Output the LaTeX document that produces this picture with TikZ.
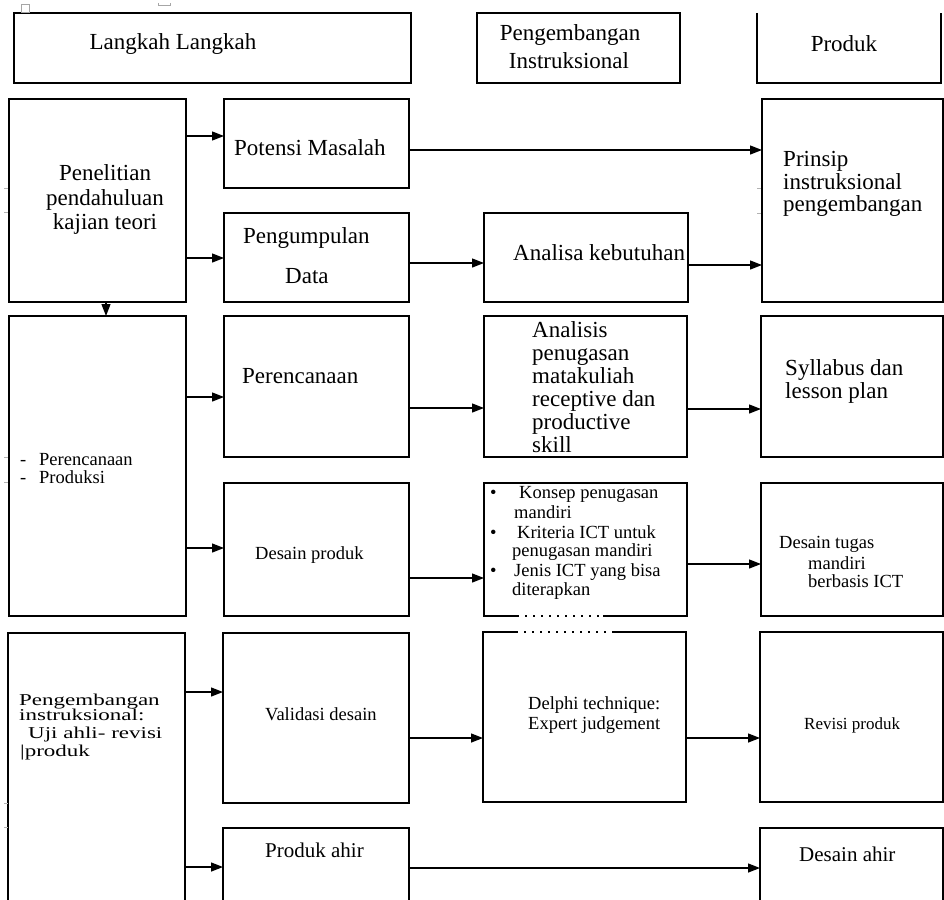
\documentclass[tikz,border=0pt]{standalone}
\usepackage{fontspec}
\setmainfont{Liberation Serif}
\usetikzlibrary{arrows.meta}
\newcommand\fsA{\fontsize{23}{25}\selectfont}
\newcommand\fsB{\fontsize{18.5}{20}\selectfont}
\newcommand\fsC{\fontsize{21}{23}\selectfont}
\newcommand\fsD{\fontsize{17}{19}\selectfont}
\newcommand\squash[1]{\scalebox{1}[0.72]{#1}}
\begin{document}
\begin{tikzpicture}[x=1pt,y=-1pt,
  box/.style={draw, line width=1.2pt, inner sep=0pt, outer sep=0pt, anchor=north west},
  openbox/.style={draw=none, inner sep=0pt, outer sep=0pt, anchor=north west},
  arr/.style={line width=1.3pt, -{Triangle[length=12pt,width=9pt]}},
  tl/.style={inner sep=0pt, anchor=base west},
  tc/.style={inner sep=0pt, anchor=base},
  tick/.style={gray!60, line width=0.6pt}]
\clip (0,0) rectangle (944,899);
\fill[white] (0,0) rectangle (944,899);

% header
\node[box, minimum width=397pt, minimum height=70pt] (hL) at (14,13) {};
\node[box, minimum width=203pt, minimum height=70pt] (hP) at (477,13) {};
\node[openbox, minimum width=184pt, minimum height=70pt] (hR) at (757,13) {};
\draw[line width=1.2pt] (hR.north west) -- (hR.south west) -- (hR.south east) -- (hR.north east);

% row 1
\node[box, minimum width=177pt, minimum height=203pt] (A1) at (9,99) {};
\node[box, minimum width=185pt, minimum height=89pt] (P1) at (224,99) {};
\node[box, minimum width=185pt, minimum height=89pt] (P2) at (224,213) {};
\node[box, minimum width=204pt, minimum height=89pt] (M2) at (484,213) {};
\node[box, minimum width=181pt, minimum height=203pt] (R1) at (762,99) {};

% row 2
\node[box, minimum width=177pt, minimum height=300pt] (A2) at (9,316) {};
\node[box, minimum width=185pt, minimum height=141pt] (P3) at (224,316) {};
\node[box, minimum width=185pt, minimum height=133pt] (P4) at (224,483) {};
\node[box, minimum width=203pt, minimum height=141pt] (M3) at (484,316) {};
\node[box, minimum width=182pt, minimum height=141pt] (R3) at (761,316) {};
\node[box, minimum width=203pt, minimum height=133pt] (M4) at (484,483) {};
\node[box, minimum width=182pt, minimum height=133pt] (R4) at (761,483) {};

% row 3
\node[box, minimum width=177pt, minimum height=290pt] (A3) at (8,633) {};
\node[box, minimum width=186pt, minimum height=170pt] (P5) at (223,633) {};
\node[box, minimum width=186pt, minimum height=100pt] (P6) at (223,828) {};
\node[box, minimum width=203pt, minimum height=170pt] (M5) at (483,632) {};
\node[box, minimum width=183pt, minimum height=170pt] (R5) at (760,632) {};
\node[box, minimum width=183pt, minimum height=100pt] (R6) at (760,828) {};

% arrows
\draw[arr] (A1.east |- 0,136) -- (P1.west |- 0,136);
\draw[arr] (A1.east |- 0,258) -- (P2.west |- 0,258);
\draw[arr] (P1.east |- 0,150) -- (R1.west |- 0,150);
\draw[arr] (P2.east |- 0,263) -- (M2.west |- 0,263);
\draw[arr] (M2.east |- 0,265) -- (R1.west |- 0,265);
\draw[arr] (A1.south -| 106,0) -- (A2.north -| 106,0);
\draw[arr] (A2.east |- 0,397) -- (P3.west |- 0,397);
\draw[arr] (A2.east |- 0,548) -- (P4.west |- 0,548);
\draw[arr] (P3.east |- 0,408) -- (M3.west |- 0,408);
\draw[arr] (M3.east |- 0,409) -- (R3.west |- 0,409);
\draw[arr] (P4.east |- 0,578) -- (M4.west |- 0,578);
\draw[arr] (M4.east |- 0,564) -- (R4.west |- 0,564);
\draw[arr] (A3.east |- 0,692) -- (P5.west |- 0,692);
\draw[arr] (A3.east |- 0,867) -- (P6.west |- 0,867);
\draw[arr] (P5.east |- 0,738) -- (M5.west |- 0,738);
\draw[arr] (M5.east |- 0,738) -- (R5.west |- 0,738);
\draw[arr] (P6.east |- 0,868) -- (R6.west |- 0,868);

% header texts
\node[tc, font=\fsA] (t1) at (173,50) {Langkah Langkah};
\node[tc, font=\fsA] (t2) at (570,41) {Pengembangan};
\node[tc, font=\fsA] (t3) at (569,68) {Instruksional};
\node[tc, font=\fsA] (t4) at (844,52) {Produk};

% row 1 texts
\node[tc, font=\fsA] (t5) at (105,180) {Penelitian};
\node[tc, font=\fsA] (t6) at (105,205) {pendahuluan};
\node[tc, font=\fsA] (t7) at (105,229) {kajian teori};
\node[tl, font=\fsA] (t8) at (234,155) {Potensi Masalah};
\node[tl, font=\fsA] (t9) at (243,243) {Pengumpulan};
\node[tl, font=\fsA] (t10) at (285,283) {Data};
\node[tl, font=\fsA] (t11) at (513,260) {Analisa kebutuhan};
\node[tl, font=\fsA] (t12) at (783,166) {Prinsip};
\node[tl, font=\fsA] (t13) at (783,189) {instruksional};
\node[tl, font=\fsA] (t14) at (783,211) {pengembangan};

% row 2 texts
\node[tl, font=\fsB] (t15) at (20,465) {-};
\node[tl, font=\fsB] (t16) at (39,465) {Perencanaan};
\node[tl, font=\fsB] (t17) at (20,483) {-};
\node[tl, font=\fsB] (t18) at (39,483) {Produksi};
\node[tl, font=\fsA] (t19) at (242,383) {Perencanaan};
\node[tl, font=\fsB] (t20) at (255,559) {Desain produk};
\node[tl, font=\fsA] (t21) at (532,337) {Analisis};
\node[tl, font=\fsA] (t22) at (532,360) {penugasan};
\node[tl, font=\fsA] (t23) at (532,383) {matakuliah};
\node[tl, font=\fsA] (t24) at (532,406) {receptive dan};
\node[tl, font=\fsA] (t25) at (532,429) {productive};
\node[tl, font=\fsA] (t26) at (532,452) {skill};
\node[tl, font=\fsA] (t27) at (785,375) {Syllabus dan};
\node[tl, font=\fsA] (t28) at (785,398) {lesson plan};
\node[tl, font=\fsB] (t29) at (490,498) {\textbullet};
\node[tl, font=\fsB] (t30) at (519,498) {Konsep penugasan};
\node[tl, font=\fsB] (t31) at (514,518) {mandiri};
\node[tl, font=\fsB] (t32) at (490,538) {\textbullet};
\node[tl, font=\fsB] (t33) at (517,538) {Kriteria ICT untuk};
\node[tl, font=\fsB] (t34) at (512,556) {penugasan mandiri};
\node[tl, font=\fsB] (t35) at (490,576) {\textbullet};
\node[tl, font=\fsB] (t36) at (514,576) {Jenis ICT yang bisa};
\node[tl, font=\fsB] (t37) at (512,595) {diterapkan};
\node[tl, font=\fsB] (t38) at (779,548) {Desain tugas};
\node[tl, font=\fsB] (t39) at (808,569) {mandiri};
\node[tl, font=\fsB] (t40) at (808,587) {berbasis ICT};

% row 3 texts
\node[tl, font=\fsA] (t41) at (19,705) {\squash{Pengembangan}};
\node[tl, font=\fsA] (t42) at (19,720) {\squash{instruksional:}};
\node[tl, font=\fsA] (t43) at (28,738) {\squash{Uji ahli- revisi}};
\node[tl, font=\fsA] (t44) at (20,756) {\squash{|produk}};
\node[tl, font=\fsB] (t45) at (265,720) {Validasi desain};
\node[tl, font=\fsB] (t46) at (528,709) {Delphi technique:};
\node[tl, font=\fsB] (t47) at (528,729) {Expert judgement};
\node[tl, font=\fsD] (t48) at (804,729) {Revisi produk};
\node[tl, font=\fsC] (t49) at (265,857) {Produk ahir};
\node[tl, font=\fsC] (t50) at (799,861) {Desain ahir};

% small artefacts
\draw[gray!70, line width=0.6pt] (21,4) rectangle (29,12);
\draw[gray!70, line width=0.6pt] (158,3) -- (158,5) -- (170,5) -- (170,3);
\foreach \yy in {188,212,457,482,803,827} \draw[tick] (4,\yy) -- (8,\yy);
\foreach \yy in {188,213} \draw[tick] (757,\yy) -- (761,\yy);
\draw[white, line width=1.6pt, dash pattern=on 6pt off 2pt] (519,616) -- (603,616);
\draw[white, line width=1.6pt, dash pattern=on 6pt off 2pt] (518,632) -- (612,632);
\end{tikzpicture}
\end{document}
